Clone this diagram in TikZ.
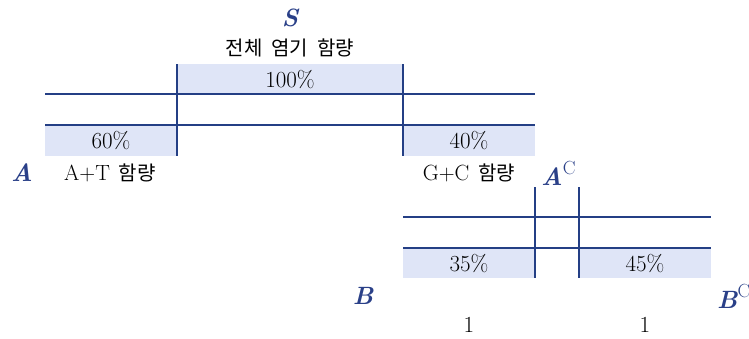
\documentclass[tikz,border=0pt]{standalone}
\usepackage{fontspec}
\newfontfamily\kr{Noto Sans CJK KR}
\definecolor{navy}{HTML}{243F85}
\definecolor{lett}{HTML}{2A4088}
\definecolor{shade}{HTML}{DFE5F7}
\newcommand{\ksp}{\hspace{0.45em}}
\begin{document}
\begin{tikzpicture}[x=1pt,y=-1pt,
  grid/.style={draw=navy,line width=1.2pt},
  cell/.style={fill=shade,draw=none,inner sep=0pt,anchor=north west},
  txt/.style={inner sep=0pt,font=\fontsize{23}{26}\selectfont},
  ktxt/.style={inner sep=0pt,font=\fontsize{20}{24}\selectfont},
  lbl/.style={inner sep=0pt,text=lett,font=\fontsize{25}{28}\selectfont\bfseries\itshape}]
\useasboundingbox (0,0) rectangle (749,338);
% top block shading
\node[cell,minimum width=226pt,minimum height=30pt] (c100) at (177,64) {};
\node[cell,minimum width=132pt,minimum height=31pt] (c60) at (45,125) {};
\node[cell,minimum width=132pt,minimum height=31pt] (c40) at (403,125) {};
% lower block shading
\node[cell,minimum width=132pt,minimum height=30pt] (c35) at (403,248) {};
\node[cell,minimum width=132pt,minimum height=30pt] (c45) at (579,248) {};
% top grid lines
\draw[grid] (45,94) -- (535,94);
\draw[grid] (45,125) -- (535,125);
\draw[grid] (177,64) -- (177,156);
\draw[grid] (403,64) -- (403,156);
% lower grid lines
\draw[grid] (403,217) -- (711,217);
\draw[grid] (403,248) -- (711,248);
\draw[grid] (535,187) -- (535,278);
\draw[grid] (579,187) -- (579,278);
% texts
\node[txt] (t100) at (290,80) {100\%};
\node[txt] (t60) at (111,141) {60\%};
\node[txt] (t40) at (469,141) {40\%};
\node[txt] (t35) at (469,264) {35\%};
\node[txt] (t45) at (645,264) {45\%};
\node[lbl] (S) at (290,18) {S};
\node[ktxt] (tot) at (290,48) {\kr 전체\ksp 염기\ksp 함량};
\node[lbl] (A) at (22,173) {A};
\node[ktxt] (at) at (110,173) {{\fontsize{22}{26}\selectfont A+T}\ksp{\kr 함량}};
\node[ktxt] (gc) at (469,173) {{\fontsize{22}{26}\selectfont G+C}\ksp{\kr 함량}};
\node[lbl,anchor=west] (Ac) at (541,173) {A\raisebox{0.45em}{\normalfont\mdseries\upshape\fontsize{19}{19}\selectfont\color{lett}C}};
\node[lbl] (B) at (363,296) {B};
\node[lbl,anchor=west] (Bc) at (717,296) {B\raisebox{0.45em}{\normalfont\mdseries\upshape\fontsize{19}{19}\selectfont\color{lett}C}};
\node[txt] (one1) at (469,325) {1};
\node[txt] (one2) at (645,325) {1};
\end{tikzpicture}
\end{document}
